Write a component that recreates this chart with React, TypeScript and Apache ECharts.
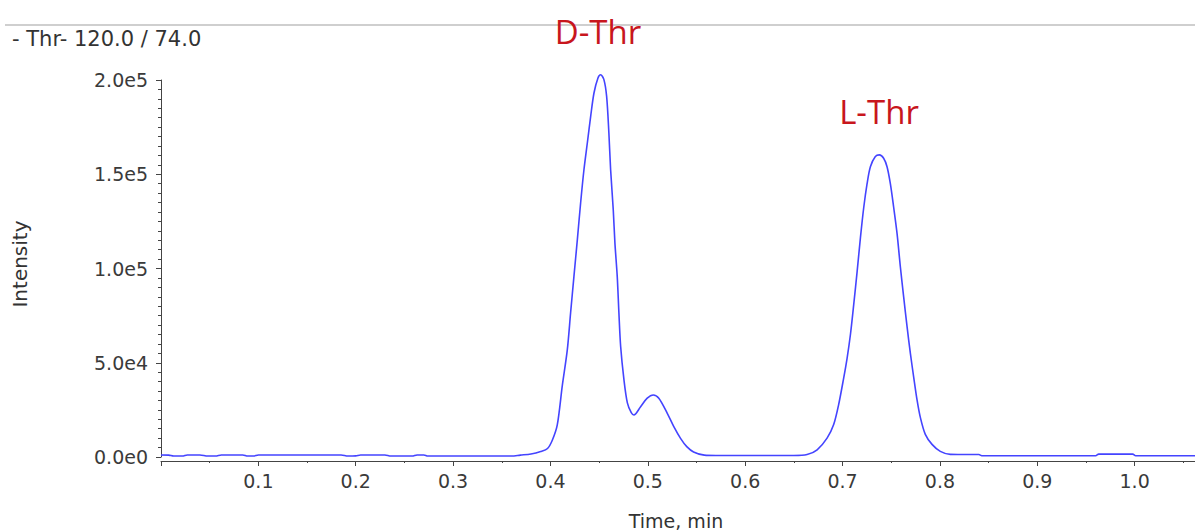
import React, { useEffect, useRef } from "react";
import * as echarts from "echarts";

const times = [
  0.0, 0.008, 0.013, 0.022, 0.027, 0.04, 0.048, 0.056, 0.062, 0.084, 0.089, 0.095, 0.1,
  0.185, 0.192, 0.2, 0.205, 0.23, 0.236, 0.258, 0.263, 0.27, 0.274, 0.36, 0.369, 0.38,
  0.39, 0.397, 0.402, 0.407, 0.4122, 0.4173, 0.4207, 0.4241, 0.4276, 0.431, 0.4344,
  0.4379, 0.4413, 0.4447, 0.4488, 0.4515, 0.4549, 0.4577, 0.46, 0.4618, 0.4645, 0.4662,
  0.4686, 0.4703, 0.4721, 0.4755, 0.479, 0.483, 0.4857, 0.4926, 0.4994, 0.5056, 0.5113,
  0.52, 0.5267, 0.5336, 0.54, 0.547, 0.558, 0.57, 0.65, 0.6636, 0.6739, 0.6841, 0.6909,
  0.696, 0.7012, 0.7047, 0.7081, 0.7115, 0.715, 0.7184, 0.7218, 0.7252, 0.7286, 0.7337,
  0.7378, 0.7422, 0.7457, 0.7491, 0.7525, 0.756, 0.7594, 0.7628, 0.7663, 0.7697, 0.7731,
  0.7766, 0.7799, 0.785, 0.7919, 0.8004, 0.8107, 0.83, 0.84, 0.843, 0.96, 0.963, 0.998,
  1.001, 1.08,
];

const intensities = [
  1100, 1000, 500, 500, 1100, 1100, 500, 500, 1100, 1100, 500, 500, 1100,
  1100, 500, 600, 1100, 1100, 500, 500, 1100, 1100, 500, 500, 1000, 1600,
  2900, 4500, 9000, 17000, 38000, 56800, 76500, 95700, 115200, 134900, 152400,
  166700, 180700, 193100, 201100, 202800, 200200, 191300, 172000, 152400, 131200, 113600,
  95700, 76500, 58600, 40900, 28700, 23500, 22300, 26700, 31200, 32900, 31200,
  23200, 16100, 9900, 5500, 2700, 1000, 800, 800, 1300, 3800, 10000, 17200,
  27800, 42000, 52500, 65000, 81000, 98500, 116500, 132500, 145000, 154000, 159400,
  160300, 158500, 154000, 145000, 132500, 118500, 100800, 84800, 69000, 54800, 42300,
  30000, 21000, 12000, 6700, 3000, 1400, 1300, 1300, 700, 700, 1500, 1500,
  700, 700,
];

const yTickValues = [0, 50000, 100000, 150000, 200000];
const xTickLabels = ["0.1", "0.2", "0.3", "0.4", "0.5", "0.6", "0.7", "0.8", "0.9", "1.0"];

const titleText = "- Thr- 120.0 / 74.0";
const peakLabels = [
  { text: "D-Thr", x: 598, y: 31 },
  { text: "L-Thr", x: 879, y: 111 },
];

export default function App() {
  const ref = useRef<HTMLDivElement>(null);

  useEffect(() => {
    if (!ref.current) return;
    const chart = echarts.init(ref.current, undefined, { renderer: "svg" });
    const data = times.map((t, i) => [t, intensities[i]]);
    const axisColor = "#444";
    const labelColor = "#3a3a3a";
    const font = "DejaVu Sans";

    chart.setOption({
      animation: false,
      backgroundColor: "#ffffff",
      grid: {
        left: 161,
        width: 1071,
        top: 80,
        bottom: 75,
        containLabel: false,
        outerBoundsMode: "none",
      },
      xAxis: {
        type: "value",
        min: 0,
        max: 1.1,
        interval: 0.1,
        offset: 4,
        axisLine: { show: true, onZero: false, lineStyle: { color: axisColor, width: 1 } },
        axisTick: { show: true, length: 5, lineStyle: { color: axisColor } },
        minorTick: { show: true, splitNumber: 2, length: 2, lineStyle: { color: axisColor } },
        splitLine: { show: false },
        axisLabel: {
          color: labelColor,
          fontFamily: font,
          fontSize: 19,
          margin: 10,
          formatter: (v: number) => {
            const s = v.toFixed(1);
            return xTickLabels.includes(s) ? s : "";
          },
        },
      },
      yAxis: {
        type: "value",
        min: 0,
        max: 200000,
        interval: 50000,
        axisLine: { show: true, lineStyle: { color: axisColor, width: 1 } },
        axisTick: { show: true, length: 5, lineStyle: { color: axisColor } },
        minorTick: { show: true, splitNumber: 10, length: 3, lineStyle: { color: axisColor } },
        splitLine: { show: false },
        axisLabel: {
          color: labelColor,
          fontFamily: font,
          fontSize: 19,
          margin: 13,
          formatter: (v: number) =>
            yTickValues.includes(v) ? v.toExponential(1).replace("e+", "e") : "",
        },
      },
      series: [
        {
          type: "line",
          data,
          showSymbol: false,
          clip: false,
          smooth: 0.3,
          lineStyle: { color: "#4444ff", width: 1.6 },
          itemStyle: { color: "#4444ff" },
        },
      ],
      graphic: [
        {
          type: "line",
          shape: { x1: 5, y1: 25, x2: 1195, y2: 25 },
          style: { stroke: "#cfcfcf", lineWidth: 2 },
        },
        {
          type: "text",
          x: 12,
          y: 39,
          style: {
            text: titleText,
            fill: "#333",
            fontSize: 21,
            fontFamily: font,
            align: "left",
            verticalAlign: "middle",
          },
        },
        ...peakLabels.map((p) => ({
          type: "text",
          x: p.x,
          y: p.y,
          style: {
            text: p.text,
            fill: "#c8161d",
            fontSize: 33,
            fontFamily: "Open Sans",
            align: "center",
            verticalAlign: "middle",
          },
        })),
        {
          type: "text",
          x: 20,
          y: 264,
          rotation: Math.PI / 2,
          style: {
            text: "Intensity",
            fill: "#333",
            fontSize: 20,
            fontFamily: font,
            align: "center",
            verticalAlign: "middle",
          },
        },
        {
          type: "text",
          x: 676,
          y: 521,
          style: {
            text: "Time, min",
            fill: "#333",
            fontSize: 19,
            fontFamily: font,
            align: "center",
            verticalAlign: "middle",
          },
        },
      ],
    });

    return () => chart.dispose();
  }, []);

  return (
    <div
      ref={ref}
      style={{ position: "fixed", left: 0, top: 0, width: 1195, height: 532 }}
    />
  );
}
